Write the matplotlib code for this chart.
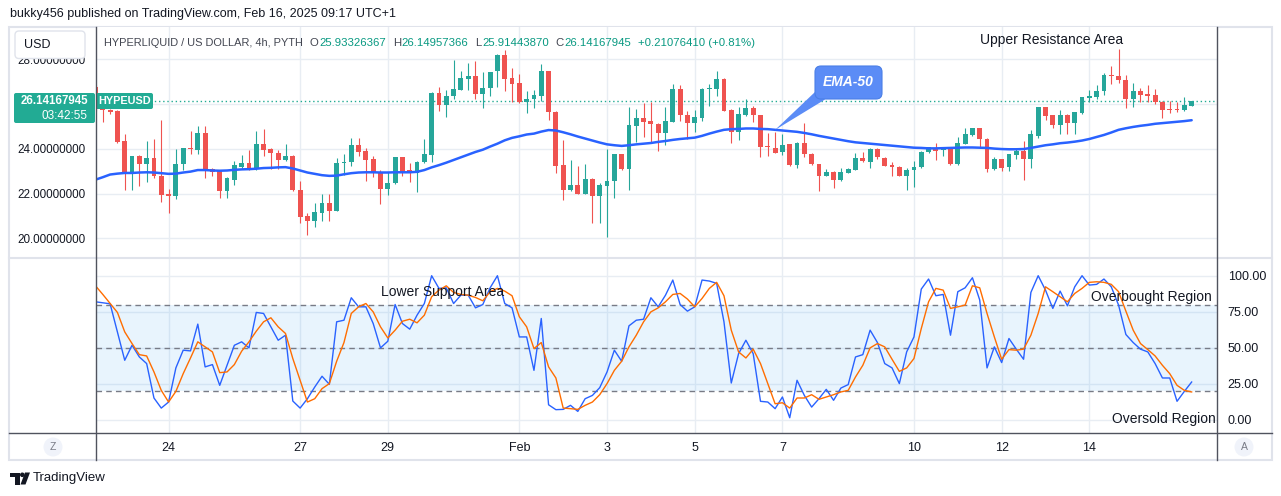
import numpy as np
import pandas as pd
import matplotlib
matplotlib.use('Agg')
from matplotlib import pyplot as plt
from matplotlib.patches import FancyBboxPatch, Rectangle, Polygon, Circle

plt.rcParams['font.family'] = ['Liberation Sans', 'DejaVu Sans']

# 4h candles of HYPE/USD (first candle Jan 22 08:00)
opens = [26.78, 25.81, 25.75, 25.70, 24.35, 22.88, 23.68, 23.30, 23.57, 22.80,
         21.99, 21.87, 23.30, 24.04, 23.95, 24.70, 23.08, 23.00, 22.10, 22.60,
         23.20, 23.38, 23.11, 24.20, 23.98, 23.83, 23.50, 23.68, 22.17, 21.00,
         20.79, 21.15, 21.57, 21.24, 23.38, 23.40, 24.16, 23.90, 23.53, 22.95,
         22.22, 22.45, 23.62, 23.03, 22.92, 23.40, 23.72, 26.50, 25.97, 26.35,
         26.65, 27.13, 27.25, 26.45, 26.71, 27.46, 28.21, 27.16, 26.95, 26.11,
         26.23, 26.38, 27.47, 25.66, 23.26, 22.14, 22.40, 21.99, 22.67, 21.87,
         22.34, 22.55, 23.75, 23.08, 25.03, 25.36, 25.25, 25.13, 24.70, 25.21,
         26.68, 25.51, 25.15, 25.36, 26.66, 26.68, 27.13, 25.75, 24.76, 25.51,
         25.81, 25.51, 24.13, 24.05, 23.85, 24.20, 23.26, 24.28, 23.78, 23.30,
         22.80, 22.97, 22.59, 22.92, 23.05, 23.60, 23.40, 23.98, 23.60, 23.26,
         23.20, 22.80, 23.03, 23.18, 23.87, 24.05, 23.96, 23.98, 23.30, 24.23,
         24.61, 24.91, 24.46, 23.08, 23.53, 23.18, 23.72, 23.90, 23.53, 24.58,
         25.85, 25.51, 25.07, 25.51, 25.15, 25.60, 26.27, 26.30, 26.57, 27.31,
         27.25, 27.10, 26.23, 26.57, 26.45, 26.41, 26.11, 25.77, 25.77, 25.72,
         25.93]
highs = [26.85, 25.83, 25.78, 25.73, 24.65, 23.70, 23.71, 24.35, 24.43, 25.28,
         22.20, 23.98, 24.05, 24.80, 25.00, 25.00, 23.15, 23.02, 22.72, 23.45,
         23.71, 23.93, 24.80, 24.90, 24.02, 23.93, 24.20, 23.71, 22.58, 21.12,
         21.57, 21.98, 21.98, 23.60, 23.75, 24.47, 24.47, 24.05, 23.68, 23.05,
         22.95, 23.64, 23.64, 23.35, 23.44, 24.46, 26.52, 26.75, 26.63, 27.98,
         27.46, 27.85, 27.91, 27.43, 27.45, 28.23, 28.40, 27.61, 27.35, 26.60,
         26.63, 27.80, 27.49, 25.68, 24.38, 23.48, 23.23, 23.30, 22.69, 22.47,
         23.98, 23.77, 23.77, 25.85, 25.78, 26.05, 26.11, 25.15, 25.85, 26.90,
         26.86, 25.70, 25.75, 26.70, 26.90, 27.46, 27.15, 25.77, 25.85, 26.23,
         25.93, 25.53, 24.73, 24.76, 24.65, 24.22, 24.30, 25.15, 23.83, 23.32,
         23.08, 22.99, 23.12, 23.13, 23.80, 23.86, 24.03, 24.05, 23.62, 23.41,
         23.22, 23.15, 23.45, 23.89, 24.10, 24.25, 24.05, 24.10, 24.53, 24.91,
         24.93, 24.93, 24.48, 23.63, 23.55, 23.77, 24.01, 24.35, 24.85, 25.87,
         25.87, 25.53, 25.73, 25.55, 25.65, 26.32, 26.65, 26.86, 27.40, 27.70,
         28.48, 27.31, 26.95, 26.71, 26.86, 26.68, 26.13, 26.15, 26.11, 26.30,
         26.15]
lows = [25.70, 25.22, 25.55, 24.25, 22.17, 22.17, 22.32, 22.50, 22.70, 21.60,
        21.15, 21.75, 23.05, 23.75, 23.75, 22.70, 22.77, 21.78, 21.78, 22.40,
        23.15, 23.05, 23.05, 23.68, 23.08, 23.11, 23.45, 22.10, 20.70, 20.15,
        20.48, 20.78, 20.78, 21.22, 22.85, 23.23, 23.68, 22.55, 22.75, 21.54,
        21.95, 22.43, 22.77, 22.50, 22.05, 23.38, 23.40, 25.70, 25.43, 26.23,
        26.63, 26.65, 26.23, 25.81, 26.38, 26.75, 26.60, 26.08, 26.06, 25.60,
        25.81, 26.15, 25.28, 22.93, 21.72, 22.10, 21.97, 21.97, 20.67, 20.67,
        20.04, 21.80, 23.06, 22.14, 24.31, 24.53, 24.28, 23.90, 24.16, 25.19,
        25.25, 24.46, 24.76, 25.25, 25.93, 26.35, 25.68, 24.25, 24.38, 25.48,
        25.18, 23.65, 23.68, 23.81, 23.71, 23.24, 23.15, 23.65, 23.28, 22.10,
        22.78, 22.25, 22.57, 22.90, 23.03, 23.40, 23.15, 23.53, 23.21, 22.80,
        22.78, 22.14, 22.30, 23.16, 23.83, 23.50, 23.68, 23.26, 23.28, 24.20,
        24.58, 24.05, 22.95, 23.06, 23.00, 23.00, 23.53, 22.59, 23.15, 24.50,
        25.30, 24.91, 24.68, 24.68, 24.65, 25.58, 26.08, 26.23, 26.42, 26.90,
        26.95, 25.82, 25.88, 26.11, 26.08, 26.00, 25.37, 25.60, 25.66, 25.70,
        25.91]
closes = [25.80, 25.72, 25.66, 24.31, 22.88, 23.68, 23.30, 23.57, 22.77, 21.95,
          21.87, 23.30, 24.02, 24.00, 24.70, 23.05, 22.95, 22.10, 22.70, 23.26,
          23.38, 23.11, 24.20, 23.95, 23.83, 23.50, 23.68, 22.14, 20.97, 20.79,
          21.17, 21.57, 21.24, 23.38, 23.42, 24.16, 23.87, 23.50, 22.95, 22.22,
          22.47, 23.62, 22.95, 22.92, 23.42, 23.75, 26.50, 25.97, 26.35, 26.68,
          27.16, 27.25, 26.45, 26.71, 27.43, 28.21, 27.13, 26.90, 26.11, 26.23,
          26.41, 27.47, 25.63, 23.23, 22.14, 22.40, 21.99, 22.67, 21.87, 22.37,
          22.58, 23.75, 23.08, 25.06, 25.36, 25.21, 25.10, 24.70, 25.25, 26.68,
          25.51, 25.15, 25.43, 26.68, 26.70, 27.13, 25.70, 24.76, 25.55, 25.81,
          25.51, 24.08, 24.10, 23.83, 24.16, 23.26, 24.28, 23.75, 23.30, 22.80,
          22.97, 22.59, 22.97, 23.11, 23.57, 23.45, 23.98, 23.65, 23.23, 23.18,
          22.80, 23.03, 23.20, 23.87, 24.08, 23.90, 23.99, 23.30, 24.25, 24.65,
          24.91, 24.46, 23.08, 23.53, 23.15, 23.75, 23.90, 23.53, 24.65, 25.85,
          25.48, 25.07, 25.51, 25.15, 25.63, 26.30, 26.35, 26.57, 27.31, 27.27,
          27.10, 26.23, 26.57, 26.42, 26.38, 26.08, 25.75, 25.74, 25.74, 25.96,
          26.14167945]

ema50 = [22.62, 22.73, 22.85, 22.89, 22.92, 22.92, 22.94, 22.95, 22.94, 22.91,
         22.88, 22.89, 22.94, 22.98, 23.05, 23.05, 23.03, 23.02, 23.03, 23.06,
         23.08, 23.09, 23.11, 23.14, 23.15, 23.17, 23.18, 23.12, 23.03, 22.94,
         22.88, 22.82, 22.79, 22.80, 22.86, 22.91, 22.94, 22.95, 22.95, 22.94,
         22.94, 22.95, 22.95, 22.95, 22.97, 23.05, 23.17, 23.27, 23.38, 23.50,
         23.62, 23.74, 23.86, 23.96, 24.10, 24.23, 24.38, 24.49, 24.56, 24.64,
         24.68, 24.77, 24.84, 24.82, 24.74, 24.65, 24.55, 24.46, 24.37, 24.28,
         24.20, 24.16, 24.13, 24.16, 24.20, 24.23, 24.26, 24.31, 24.35, 24.40,
         24.44, 24.47, 24.50, 24.58, 24.68, 24.77, 24.85, 24.88, 24.89, 24.91,
         24.91, 24.89, 24.88, 24.85, 24.82, 24.79, 24.76, 24.71, 24.65, 24.58,
         24.52, 24.46, 24.40, 24.34, 24.29, 24.26, 24.23, 24.20, 24.17, 24.14,
         24.11, 24.08, 24.05, 24.04, 24.02, 24.02, 24.03, 24.04, 24.05, 24.06,
         24.06, 24.05, 24.04, 24.01, 23.99, 23.98, 23.98, 23.99, 24.04, 24.10,
         24.16, 24.20, 24.25, 24.28, 24.32, 24.37, 24.44, 24.53, 24.62, 24.73,
         24.85, 24.92, 24.98, 25.03, 25.07, 25.12, 25.15, 25.18, 25.21, 25.24,
         25.28]

stoch_k = [81.9, 81.2, 80.5, 61.0, 41.3, 51.7, 43.6, 39.0, 15.1, 8.1,
           12.3, 36.0, 48.3, 47.8, 66.4, 36.7, 38.3, 23.9, 37.8, 51.7,
           54.1, 49.9, 74.5, 73.8, 64.5, 55.2, 58.7, 13.0, 8.1, 14.6,
           22.7, 30.2, 24.6, 68.0, 69.1, 84.7, 78.4, 78.4, 66.8, 49.9,
           54.5, 80.0, 66.8, 62.9, 72.6, 80.7, 100.0, 91.2, 91.6, 80.7,
           86.5, 86.5, 77.7, 80.0, 91.6, 100.0, 80.7, 77.7, 57.5, 57.5,
           34.3, 70.3, 10.4, 7.0, 7.2, 10.0, 5.8, 14.6, 16.9, 22.3,
           33.2, 48.3, 40.6, 65.2, 69.1, 69.8, 84.7, 78.4, 86.5, 97.0,
           80.0, 75.4, 78.4, 97.0, 96.3, 94.7, 68.0, 25.5, 45.9, 55.2,
           45.9, 12.8, 12.3, 7.7, 15.8, 1.4, 27.4, 16.9, 8.8, 14.6,
           21.1, 13.5, 22.0, 24.4, 43.6, 45.2, 62.2, 53.6, 39.0, 36.0,
           25.1, 47.1, 57.5, 90.7, 97.7, 86.1, 87.0, 58.7, 88.9, 91.6,
           98.6, 83.1, 36.0, 50.6, 39.7, 56.4, 49.0, 42.0, 88.4, 100.0,
           90.0, 77.3, 89.3, 79.1, 92.3, 100.0, 93.5, 94.0, 97.7, 92.3,
           79.6, 59.2, 53.6, 49.0, 47.1, 39.0, 29.0, 29.0, 12.8, 19.7,
           26.2]
stoch_d = [93.0, 87.0, 80.7, 74.5, 61.0, 52.9, 45.2, 44.3, 33.2, 20.4,
           12.3, 19.7, 32.0, 42.9, 54.1, 50.6, 47.1, 32.7, 33.2, 38.3,
           47.6, 54.1, 61.5, 68.0, 70.8, 64.5, 59.9, 42.5, 27.4, 12.3,
           14.6, 21.6, 25.1, 40.6, 53.6, 73.8, 78.4, 80.7, 74.9, 64.5,
           56.8, 62.2, 68.4, 69.8, 67.3, 72.6, 85.4, 90.0, 93.0, 88.4,
           87.0, 86.5, 84.9, 82.6, 88.9, 91.2, 89.3, 86.1, 71.5, 64.5,
           49.4, 53.6, 36.7, 29.0, 8.1, 7.7, 7.2, 10.0, 12.3, 17.4,
           25.1, 34.3, 40.6, 50.6, 58.7, 68.0, 74.9, 77.7, 81.9, 87.0,
           87.7, 83.8, 78.4, 84.2, 91.2, 95.4, 86.1, 62.2, 47.1, 42.9,
           49.0, 39.0, 25.1, 11.1, 11.8, 8.1, 15.1, 15.1, 17.4, 14.2,
           15.8, 17.4, 19.3, 20.4, 29.7, 37.8, 49.9, 52.9, 50.6, 42.0,
           33.6, 36.0, 42.5, 63.3, 81.9, 91.2, 90.0, 77.3, 78.4, 79.6,
           93.0, 91.6, 73.8, 57.5, 42.0, 48.7, 48.3, 49.0, 58.7, 73.8,
           92.3, 88.9, 85.4, 81.9, 87.7, 91.2, 95.4, 95.8, 95.4, 94.0,
           88.9, 75.4, 62.2, 52.9, 48.7, 44.3, 37.8, 32.0, 23.9, 20.4,
           19.3]

tick_days = ['2025-01-24', '2025-01-27', '2025-01-29', '2025-02-01', '2025-02-03',
             '2025-02-05', '2025-02-07', '2025-02-10', '2025-02-12', '2025-02-14']
tick_labels = ['24', '27', '29', 'Feb', '3', '5', '7', '10', '12', '14']
price_ticks = [20, 22, 24, 26, 28]
stoch_ticks = [0, 25, 50, 75, 100]
ohlc_header = [('O', '25.93326367'), ('H', '26.14957366'),
               ('L', '25.91443870'), ('C', '26.14167945')]

first_bar = pd.Timestamp('2025-01-22 08:00')
bar = pd.Timedelta(hours=4)
x = np.arange(len(closes))
tick_pos = (pd.to_datetime(tick_days) - first_bar) / bar

W, H = 1281, 496
UP, DOWN = '#26a69a', '#ef5350'
GRID = '#e8edf3'
TXT = '#131722'
AXL = '#50535e'

fig = plt.figure(figsize=(W / 100, H / 100), dpi=100)


def px_axes(x0, y0, x1, y1, **kw):
    return fig.add_axes([x0 / W, 1 - y1 / H, (x1 - x0) / W, (y1 - y0) / H], **kw)


bg = px_axes(0, 0, W, H, zorder=0)
ax = px_axes(95.5, 27, 1216.5, 257, zorder=1)
ax2 = px_axes(95.5, 258, 1216.5, 432.5, zorder=1)
fg = px_axes(0, 0, W, H, zorder=5)
for a in (bg, fg):
    a.set_xlim(0, W)
    a.set_ylim(H, 0)
    a.axis('off')
fg.patch.set_visible(False)

bg.add_patch(Rectangle((9, 27), 1263, 433, fill=False, ec='#e0e3eb', lw=1.5))

# ---- price pane
o = np.array(opens)
h = np.array(highs)
l = np.array(lows)
c = np.array(closes)
cols = np.where(c >= o, UP, DOWN)
ax.vlines(x, l, h, colors=cols, lw=0.8, zorder=2)
ax.bar(x, np.maximum(np.abs(c - o), 0.04), bottom=np.minimum(o, c), width=0.66,
       color=cols, lw=0, zorder=3)
ax.plot(x, ema50, color='#2962ff', lw=1.8, zorder=4, solid_capstyle='round')
ax.axhline(closes[-1], color='#22ab94', lw=1, ls=(0, (1, 2)), zorder=1)

ax.set_xlim(0, 153.4)
ax.set_ylim(19.16, 29.45)
ax.set_xticks(tick_pos)
ax.set_yticks(price_ticks)
# the 26 label sits under the last-price tag, as in the screenshot
ax.set_yticklabels(['' if v == 26 else f'{v:.8f}' for v in price_ticks])
ax.tick_params(axis='x', length=0, labelbottom=False)
ax.tick_params(axis='y', length=0, pad=7, labelsize=8.4, labelcolor=TXT)
ax.grid(True, color=GRID, lw=1)
ax.set_axisbelow(True)
for s in ax.spines.values():
    s.set_visible(False)

# ---- stochastic pane
ax2.axhspan(20, 80, color='#2196f3', alpha=0.1, lw=0)
for lvl in (80, 50, 20):
    ax2.axhline(lvl, color='#787b86', lw=1, ls=(0, (4, 3)), zorder=2)
ax2.plot(x, stoch_k, color='#2962ff', lw=1.0, zorder=3)
ax2.plot(x, stoch_d, color='#ff6d00', lw=1.0, zorder=4)
ax2.set_xlim(0, 153.4)
ax2.set_ylim(-8.85, 112.3)
ax2.set_xticks(tick_pos)
ax2.set_xticklabels(tick_labels)
ax2.set_yticks(stoch_ticks)
ax2.set_yticklabels([f'{v:.2f}' for v in stoch_ticks])
ax2.yaxis.tick_right()
ax2.tick_params(axis='x', length=0, pad=7, labelsize=9, labelcolor=TXT)
ax2.tick_params(axis='y', length=0, pad=8, labelsize=9, labelcolor=TXT)
ax2.grid(True, color=GRID, lw=1)
ax2.set_axisbelow(True)
for s in ax2.spines.values():
    s.set_visible(False)

# ---- frame lines
fg.plot([9, 1272], [257.5, 257.5], color='#e0e3eb', lw=1.5)
fg.plot([9, 1272], [432.5, 432.5], color=AXL, lw=1)
fg.plot([95.5, 95.5], [27, 460], color=AXL, lw=1)
fg.plot([1216.5, 1216.5], [27, 460], color=AXL, lw=1)

# ---- header texts
fg.text(10, 14, 'bukky456 published on TradingView.com, Feb 16, 2025 09:17 UTC+1',
        fontsize=9, color=TXT, va='center')

# symbol line: lay pieces out one after the other
rend = fig.canvas.get_renderer()
cur = 104


def put(s, color, gap, size=8.2):
    global cur
    t = fg.text(cur, 43, s, fontsize=size, color=color, va='center')
    cur += t.get_window_extent(rend).width + gap


put('HYPERLIQUID / US DOLLAR, 4h, PYTH', '#434651', 7, size=7.9)
for lab, val in ohlc_header:
    put(lab, '#434651', 0.5)
    put(val, '#089981', 7)
put('+0.21076410 (+0.81%)', '#089981', 0)

fg.add_patch(FancyBboxPatch((15, 31), 70, 27.5, boxstyle='round,pad=0,rounding_size=4',
                            fc='white', ec='#e0e3eb', lw=1))
fg.text(24, 44.5, 'USD', fontsize=9, color=TXT, va='center')

# last price labels
fg.add_patch(FancyBboxPatch((14, 93), 81, 30, boxstyle='round,pad=0,rounding_size=2',
                            fc='#22ab94', ec='none'))
fg.text(88, 101.5, '26.14167945', fontsize=8.3, color='white', fontweight='bold',
        ha='right', va='center')
fg.text(88, 116, '03:42:55', fontsize=8.5, color='white', ha='right', va='center')
fg.add_patch(FancyBboxPatch((96, 93), 57, 16, boxstyle='round,pad=0,rounding_size=2',
                            fc='#22ab94', ec='none'))
fg.text(124.5, 101.5, 'HYPEUSD', fontsize=7.8, color='white', fontweight='bold',
        ha='center', va='center')

# ---- annotations
fg.text(1052, 40, 'Upper Resistance Area', fontsize=10, color=TXT, ha='center', va='center')
fg.text(443, 292, 'Lower Support Area', fontsize=10, color=TXT, ha='center', va='center')
fg.text(1151, 297.5, 'Overbought Region', fontsize=10, color=TXT, ha='center', va='center')
fg.text(1164, 418.5, 'Oversold Region', fontsize=10, color=TXT, ha='center', va='center')

fg.add_patch(Polygon([(815, 92), (825, 99.5), (775, 130)], closed=True,
                     fc='#5b8cf6', ec='none'))
fg.add_patch(FancyBboxPatch((815, 66), 67, 33, boxstyle='round,pad=0,rounding_size=6',
                            fc='#5b8cf6', ec='#4a7fe6', lw=0.8))
fg.text(848.5, 82.5, 'EMA-50', fontsize=10, color='white', fontstyle='italic',
        fontweight='bold', ha='center', va='center')

# ---- bottom corner buttons and logo
for cx, letter in [(53, 'Z'), (1244, 'A')]:
    fg.add_patch(Circle((cx, 447), 9.5, fc='#f0f3fa', ec='none'))
    fg.text(cx, 447.5, letter, fontsize=7.5, color='#787b86', ha='center', va='center')

fg.add_patch(Polygon([(10, 472.5), (19.5, 472.5), (19.5, 484.5), (15, 484.5),
                      (15, 477), (10, 477)], closed=True, fc=TXT, ec='none'))
fg.add_patch(Circle((22.3, 474.8), 2.3, fc=TXT, ec='none'))
fg.add_patch(Polygon([(25, 472.5), (30, 472.5), (25.5, 484.5), (20.5, 484.5)],
                     closed=True, fc=TXT, ec='none'))
fg.text(33, 478.5, 'TradingView', fontsize=9.5, color=TXT, va='center')

fig.savefig('out.png', dpi=100)
